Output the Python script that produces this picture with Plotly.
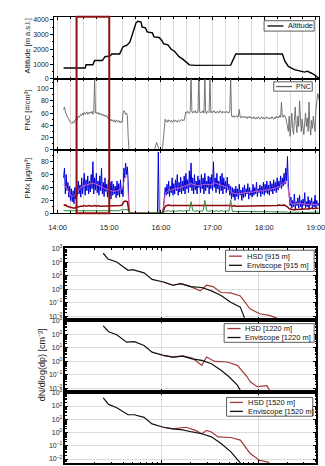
import plotly.graph_objects as go
import pandas as pd

DAY = "2017-07-20 "

# ---------------- time-series data ----------------
ALT_TIMES = ["14:07", "14:32", "14:33", "14:41", "14:43", "14:52", "14:55", "15:01", "15:03", "15:12",
             "15:16", "15:21", "15:24", "15:26", "15:31", "15:33", "15:37", "15:38", "15:42", "15:44",
             "15:50", "15:52", "15:58", "16:01", "16:03", "16:08", "16:10", "16:12", "16:16", "16:19",
             "16:21", "16:25", "16:27", "16:30", "16:33", "16:40", "17:00", "17:21", "17:27", "18:21",
             "18:24", "18:28", "18:35", "18:40", "18:47", "18:50", "18:52", "18:55", "18:58", "19:02", "19:04"]
ALT_M = [730, 730, 950, 950, 1240, 1240, 1500, 1550, 1680, 1680,
         2170, 2300, 2500, 2850, 3780, 3900, 3850, 3520, 3460, 3180,
         3110, 2840, 2800, 2600, 2390, 2300, 2150, 2000, 1850, 1650,
         1500, 1350, 1240, 1100, 950, 910, 930, 930, 1680, 1680,
         1200, 840, 620, 560, 460, 520, 480, 380, 290, 80, 20]

SERIES_START = "14:07"
# particle number concentration, 1-min samples from 14:07
PNC = [66, 70, 62, 58, 56, 52, 50, 47, 45, 44,
       43, 46, 44, 48, 50, 47, 52, 55, 53, 57,
       58, 56, 60, 57, 61, 58, 60, 62, 58, 61,
       59, 62, 60, 63, 58, 61, 118, 60, 62, 59,
       61, 58, 60, 57, 59, 56, 58, 55, 57, 54,
       56, 53, 50, 51, 48, 50, 47, 49, 46, 48,
       45, 49, 47, 45, 48, 46, 44, 47, 45, 60,
       64, 62, 58, 60, 56, 20,
       0,
       0, 0, 0, 0, 0, 0, 0, 0, 0, 0,
       0, 0, 0, 0, 0, 0, 0, 0, 0, 0,
       0, 0, 0, 0, 0, 0, 0, 0, 0,
       2, 6, 12, 8, 3, 0, 0, 0, 0, 5,
       25, 42, 50,
       46, 48, 45, 49, 47, 46, 48, 45, 47, 49,
       46, 48, 47, 45, 49, 47, 46, 48, 50, 47,
       49, 48, 58, 62, 60, 63, 61, 59, 62, 118,
       62, 60, 63, 61, 64, 60, 62, 61, 118, 63,
       60, 62, 61, 64, 60, 118, 62, 59, 63, 61,
       62, 118, 60, 63, 61, 62, 64, 60, 62, 61,
       63, 60, 62, 64, 61, 60, 63, 61, 62, 60,
       63, 61, 62, 60, 64, 118, 55, 54, 56, 53,
       55, 54, 56, 53, 55, 66, 54, 52, 55, 53,
       54, 52, 55, 53, 51, 54, 52, 55, 53, 51,
       53, 51, 54, 52, 50, 53, 51, 54, 52, 50,
       52, 54, 51, 53, 50, 52, 54, 51, 53, 52,
       50, 53, 51, 54, 52, 50, 53, 51, 55, 52,
       54, 52, 56, 53, 78, 55, 53, 57, 55, 52,
       45, 38, 30, 55, 22, 40, 60, 35, 25, 48,
       70, 42, 28, 55, 38, 80, 45, 30, 50, 35,
       25, 45, 60, 38, 52, 30, 78, 40, 24, 48,
       35, 55, 42, 30, 65, 85, 92, 88, 80]

# PMx (coarse, blue), 1-min samples from 14:07
PM_BLUE = [55, 70, 30, 60, 35, 48, 25, 42, 20, 38,
           18, 35, 15, 40, 22, 45, 28, 50, 30, 44,
           25, 55, 30, 48, 62, 28, 52, 35, 58, 30,
           50, 33, 60, 38, 80, 30, 55, 36, 62, 32,
           50, 28, 58, 35, 70, 30, 48, 26, 55, 34,
           45, 25, 52, 30, 48, 22, 50, 28, 45, 30,
           42, 24, 50, 28, 46, 25, 52, 30, 40, 26,
           70, 55, 78, 60, 72, 48,
           5,
           0, 0, 0, 0, 0, 0, 0, 0, 0, 0,
           0, 0, 0, 0, 0, 0, 0, 0, 0, 0,
           0, 0, 0, 0, 0, 0, 0, 0, 0, 0,
           0, 0, 0, 95, 0, 0, 0, 0, 0,
           10, 25, 40,
           28, 45, 30, 50, 26, 42, 32, 55, 28, 46,
           30, 52, 35, 60, 28, 48, 33, 56, 30, 50,
           35, 58, 30, 62, 38, 52, 32, 66, 40, 78,
           35, 55, 30, 60, 36, 50, 30, 58, 40, 52,
           32, 60, 38, 55, 30, 62, 35, 50, 40, 58,
           30, 56, 38, 60, 35, 80, 40, 55, 32, 62,
           38, 50, 30, 58, 35, 62, 30, 55, 38, 50,
           32, 56, 36, 45, 28, 42, 22, 40, 25, 38,
           20, 42, 26, 38, 22, 45, 28, 36, 20, 40,
           24, 44, 26, 38, 30, 46, 22, 40, 28, 35,
           25, 45, 28, 40, 30, 48, 26, 38, 32, 44,
           26, 42, 30, 48, 28, 45, 32, 50, 30, 44,
           28, 50, 34, 46, 30, 52, 35, 48, 32, 55,
           36, 50, 40, 58, 38, 55, 42, 62, 45, 70,
           50, 88, 42, 30,
           12, 25, 8, 20, 10, 30, 6, 18, 12, 24,
           8, 28, 10, 20, 6, 22, 12, 32, 8, 18,
           10, 26, 6, 20, 12, 24, 8, 18, 10, 28,
           8, 20, 12, 16, 10]

# 2-min samples from 14:07
PM_MEAN = [45, 42, 38, 33, 28, 26, 27, 30, 34, 38,
           40, 42, 43, 44, 45, 46, 46, 47, 46, 45,
           44, 43, 42, 40, 38, 37, 36, 35, 35, 34,
           34, 35, 35, 36, 38, 48, 58, 55,
           3,
           0, 0, 0, 0, 0, 0, 0, 0, 0, 0, 0, 0, 0, 0, 0, 0, 0, 0, 0,
           8, 30, 34, 36, 36, 37, 37, 38, 39, 39,
           40, 41, 42, 43, 44, 45, 46, 45, 44, 44,
           43, 43, 44, 44, 45, 45, 44, 44, 45, 46,
           47, 46, 45, 44, 44, 43, 42, 40, 37, 34,
           32, 31, 30, 30, 30, 31, 31, 32, 32, 32,
           33, 33, 33, 34, 34, 34, 35, 35, 35, 36,
           36, 37, 37, 38, 38, 39, 40, 41, 43, 45,
           47, 50, 45, 25,
           15, 14, 14, 15, 15, 16, 15, 14, 15, 14, 14, 15, 14, 14, 15, 15, 14]
PM_FINE = [12, 13, 11, 10, 9, 8, 8, 9, 10, 10,
           11, 11, 12, 11, 12, 12, 11, 12, 12, 11,
           12, 11, 11, 12, 11, 11, 12, 11, 11, 11,
           12, 11, 12, 12, 13, 18, 19, 18,
           2,
           0, 0, 0, 0, 0, 0, 0, 0, 0, 0, 0, 0, 0, 0, 0, 0, 0, 0, 0,
           4, 11, 12, 13, 12, 12, 13, 12, 12, 13,
           12, 12, 13, 12, 12, 13, 12, 12, 13, 12,
           12, 13, 12, 12, 13, 12, 12, 13, 12, 12,
           13, 12, 12, 13, 12, 12, 13, 12, 12, 12,
           11, 12, 11, 11, 12, 11, 11, 12, 11, 11,
           12, 11, 11, 12, 11, 11, 12, 11, 11, 12,
           11, 12, 12, 11, 12, 12, 12, 13, 12, 12,
           13, 12, 10, 7,
           6, 6, 5, 6, 6, 6, 7, 6, 7, 7, 7, 7, 8, 7, 8, 8, 8]
PM_SMALL = [4, 4, 4, 3, 3, 3, 3, 3, 4, 4,
            4, 4, 4, 4, 4, 4, 4, 4, 4, 4,
            4, 4, 4, 4, 4, 4, 4, 4, 4, 4,
            4, 4, 4, 5, 5, 6, 6, 6,
            1,
            0, 0, 0, 0, 0, 0, 0, 0, 0, 0, 0, 0, 0, 0, 0, 0, 0, 0, 0,
            1, 3, 4, 4, 3, 4, 4, 3, 4, 4,
            4, 3, 4, 4, 3, 4, 18, 4, 3, 4,
            4, 3, 4, 4, 20, 4, 3, 4, 4, 3,
            4, 4, 3, 4, 4, 3, 4, 4, 3, 21,
            3, 3, 3, 3, 3, 3, 3, 3, 3, 3,
            3, 3, 3, 3, 3, 3, 3, 3, 3, 3,
            3, 3, 3, 3, 3, 3, 3, 3, 3, 3,
            3, 3, 2, 1,
            2, 2, 1, 2, 1, 2, 1, 1, 2, 1, 2, 1, 1, 2, 1, 1, 2]

HIGHLIGHT = ["14:22", "15:00"]

assert len(PNC) == 298 and len(PM_BLUE) == 298
assert len(PM_MEAN) == 149 and len(PM_FINE) == 149 and len(PM_SMALL) == 149
assert len(ALT_TIMES) == len(ALT_M)

# ---------------- size distributions ----------------
ENV_915_DP = [0.247, 0.277, 0.341, 0.447, 0.50, 0.655, 0.794, 1.04, 1.31, 1.58, 2.0, 2.61, 3.28, 4.13, 5.2, 6.55, 7.35]
ENV_915_DN = [479, 178, 107, 25.7, 28.8, 16.6, 5.4, 3.5, 2.0, 2.6, 1.58, 1.35, 0.76, 0.35, 0.107, 0.047, 0.0055]
HSD_915_DP = [1.04, 1.31, 1.58, 2.0, 2.51, 2.92, 3.41, 4.13, 5.2, 6.55, 8.24, 10.4, 13.1, 17.1]
HSD_915_DN = [3.5, 2.0, 2.6, 1.58, 0.76, 2.0, 1.58, 0.575, 0.54, 0.32, 0.035, 0.015, 0.0115, 0.0055]

ENV_1220_DP = [0.247, 0.281, 0.341, 0.432, 0.52, 0.655, 0.794, 1.04, 1.31, 1.65, 2.07, 2.61, 3.28, 4.13, 5.0, 6.1, 6.8]
ENV_1220_DN = [427, 155, 93, 25.7, 28, 14.5, 4.7, 2.7, 2.0, 2.4, 1.5, 1.15, 0.65, 0.21, 0.069, 0.0166, 0.004]
HSD_1220_DP = [1.04, 1.31, 1.65, 2.07, 2.61, 2.92, 3.55, 4.8, 6.1, 7.7, 8.3, 9.8, 12.4, 13.7]
HSD_1220_DN = [2.7, 2.0, 2.5, 1.7, 0.49, 2.04, 0.95, 0.87, 0.49, 0.069, 0.0295, 0.0126, 0.015, 0.004]

ENV_1520_DP = [0.247, 0.281, 0.341, 0.447, 0.52, 0.655, 0.794, 1.04, 1.31, 1.65, 2.07, 2.61, 3.28, 4.13, 5.2, 6.55]
ENV_1520_DN = [407, 132, 74, 21.9, 21.9, 13.8, 4.5, 2.5, 1.9, 1.6, 1.1, 0.81, 0.47, 0.15, 0.036, 0.005]
HSD_1520_DP = [1.04, 1.31, 1.78, 2.24, 2.61, 2.92, 3.28, 3.85, 5.2, 6.55, 8.24, 10.4, 13.1]
HSD_1520_DN = [2.5, 1.9, 2.5, 1.45, 0.81, 1.45, 1.1, 0.47, 0.42, 0.27, 0.0275, 0.0079, 0.0056]

LOG_TICK_EXP = [-2, -1, 0, 1, 2, 3]

# ---------------- figure ----------------
W, H = 325, 466
FONT = "Arial, Liberation Sans, sans-serif"
C_ALT, C_PNC = "black", "#666666"
C_HSD, C_ENV = "#a33a36", "#111111"

t1 = pd.date_range(DAY + SERIES_START, periods=len(PNC), freq="1min")
t2 = pd.date_range(DAY + SERIES_START, periods=len(PM_MEAN), freq="2min")
alt_t = [DAY + s for s in ALT_TIMES]


def py(px):
    return 1 - px / H


fig = go.Figure()

fig.add_trace(go.Scatter(x=alt_t, y=ALT_M, mode="lines", name="Altitude",
                         line=dict(color=C_ALT, width=1.4), xaxis="x", yaxis="y"))
fig.add_trace(go.Scatter(x=t1, y=PNC, mode="lines", name="PNC",
                         line=dict(color=C_PNC, width=0.9), xaxis="x2", yaxis="y2"))
fig.add_trace(go.Scatter(x=t1, y=PM_BLUE, mode="lines", name="PMx",
                         line=dict(color="#0000d8", width=1.0), xaxis="x3", yaxis="y3"))
fig.add_trace(go.Scatter(x=t2, y=PM_MEAN, mode="lines", name="PMx mean",
                         line=dict(color="#e868c0", width=0.9), xaxis="x3", yaxis="y3"))
fig.add_trace(go.Scatter(x=t2, y=PM_FINE, mode="lines", name="PM fine",
                         line=dict(color="#8b0a0a", width=1.5), xaxis="x3", yaxis="y3"))
fig.add_trace(go.Scatter(x=t2, y=PM_SMALL, mode="lines", name="PM small",
                         line=dict(color="#2f8a3a", width=1.0), xaxis="x3", yaxis="y3"))

panels = [
    ("915", HSD_915_DP, HSD_915_DN, ENV_915_DP, ENV_915_DN, "x4", "y4"),
    ("1220", HSD_1220_DP, HSD_1220_DN, ENV_1220_DP, ENV_1220_DN, "x5", "y5"),
    ("1520", HSD_1520_DP, HSD_1520_DN, ENV_1520_DP, ENV_1520_DN, "x6", "y6"),
]
for alt, hdp, hdn, edp, edn, xa, ya in panels:
    fig.add_trace(go.Scatter(x=hdp, y=hdn, mode="lines", name=f"HSD [{alt} m]",
                             line=dict(color=C_HSD, width=1.2), xaxis=xa, yaxis=ya))
    fig.add_trace(go.Scatter(x=edp, y=edn, mode="lines", name=f"Enviscope [{alt} m]",
                             line=dict(color=C_ENV, width=1.2), xaxis=xa, yaxis=ya))

tick_font = dict(family=FONT, size=7, color="#222222")
grid_c = "#dcdcdc"

top_x = dict(type="date", range=[DAY + "13:56", DAY + "19:03:36"], domain=[50 / W, 1],
             showline=True, linecolor="black", linewidth=1, mirror="allticks",
             ticks="inside", ticklen=3, tickcolor="black",
             tick0=DAY + "14:00", dtick=3600000, tickformat="%H:%M",
             showgrid=True, gridcolor=grid_c, gridwidth=1, zeroline=False,
             minor=dict(dtick=900000, ticks="inside", ticklen=2, tickcolor="black",
                        showgrid=True, gridcolor=grid_c, gridwidth=1),
             showticklabels=False, tickfont=dict(tick_font, size=7.5))
top_y = dict(showline=True, linecolor="black", linewidth=1, mirror=True,
             ticks="outside", ticklen=3, tickcolor="black", showgrid=False, zeroline=False,
             tickfont=tick_font)

bot_x = dict(type="log", range=[-1, 1.6], domain=[61.7 / W, 321.7 / W],
             showline=True, linecolor="black", linewidth=1.5, mirror="allticks",
             ticks="inside", ticklen=3, tickcolor="black", dtick=1,
             showgrid=True, gridcolor=grid_c, zeroline=False, showticklabels=False,
             minor=dict(ticks="inside", ticklen=1.5, dtick="D1", tickcolor="black", showgrid=False))
bot_y = dict(type="log", range=[-2.3, 3.05],
             showline=True, linecolor="black", linewidth=1.5, mirror="allticks",
             ticks="inside", ticklen=3, tickcolor="black",
             tickvals=[10 ** e for e in LOG_TICK_EXP],
             ticktext=[f"10<sup>{'−' if e < 0 else ''}{abs(e)}</sup>" for e in LOG_TICK_EXP],
             showgrid=True, gridcolor=grid_c, zeroline=False, tickfont=tick_font,
             minor=dict(ticks="inside", ticklen=1.5, dtick="D1", tickcolor="black", showgrid=False))

fig.update_layout(
    width=W, height=H, margin=dict(l=0, r=0, t=0, b=0),
    paper_bgcolor="white", plot_bgcolor="white", showlegend=False,
    font=dict(family=FONT, size=7, color="#222222"),
    xaxis=dict(top_x, anchor="y", matches="x3"),
    xaxis2=dict(top_x, anchor="y2", matches="x3"),
    xaxis3=dict(top_x, anchor="y3", showticklabels=True, ticklabelstandoff=7,
                ticklabeloverflow="allow"),
    yaxis=dict(top_y, domain=[py(76), py(13)], range=[0, 4200], dtick=1000, anchor="x",
               minor=dict(ticks="outside", ticklen=1.5, dtick=500, tickcolor="black")),
    yaxis2=dict(top_y, domain=[py(148), py(76)], range=[0, 116], dtick=20, anchor="x2",
                minor=dict(ticks="outside", ticklen=1.5, dtick=10, tickcolor="black")),
    yaxis3=dict(top_y, domain=[py(212.5), py(148)], range=[0, 98.5], tickvals=[0, 20, 40, 60, 80],
                anchor="x3", minor=dict(ticks="outside", ticklen=1.5, dtick=10, tickcolor="black")),
    xaxis4=dict(bot_x, anchor="y4"),
    xaxis5=dict(bot_x, anchor="y5"),
    xaxis6=dict(bot_x, anchor="y6"),
    yaxis4=dict(bot_y, domain=[py(321), py(248)], anchor="x4"),
    yaxis5=dict(bot_y, domain=[py(394), py(321)], anchor="x5"),
    yaxis6=dict(bot_y, domain=[0, py(394)], anchor="x6"),
)

# highlighted time window (red box across the three time-series panels)
fig.add_shape(type="rect", xref="x", yref="paper",
              x0=DAY + HIGHLIGHT[0], x1=DAY + HIGHLIGHT[1], y0=py(212.5), y1=py(13),
              line=dict(color="#8e1010", width=2), layer="above")


# compact boxed legends (key line + label), as in the original figure
def boxed_legend(box, entries, line_x, text_x, size):
    x0, y0, x1, y1 = box
    fig.add_shape(type="rect", xref="paper", yref="paper", x0=x0 / W, x1=x1 / W,
                  y0=py(y1), y1=py(y0), line=dict(color="#333333", width=0.8),
                  fillcolor="white", layer="above")
    for label, color, ypix in entries:
        fig.add_shape(type="line", xref="paper", yref="paper", x0=line_x[0] / W, x1=line_x[1] / W,
                      y0=py(ypix), y1=py(ypix), line=dict(color=color, width=1.3), layer="above")
        fig.add_annotation(text=label, x=text_x / W, y=py(ypix), xref="paper", yref="paper",
                           xanchor="left", yanchor="middle", showarrow=False,
                           font=dict(family=FONT, size=size, color="#111111"))


boxed_legend((268, 17, 320, 27.5), [("Altitude", C_ALT, 22.3)], (271.5, 288), 290.5, 7.5)
boxed_legend((278, 79, 318, 88.5), [("PNC", C_PNC, 83.8)], (280.5, 297), 299, 7)
legend_boxes = [((228, 250, 320, 271.5), 256, 265.3),
                ((226.5, 324.5, 320, 343.5), 329.5, 338.6),
                ((229, 399.5, 318.5, 418.5), 404.5, 413.6)]
for (alt, *_), (box, ya, yb) in zip(panels, legend_boxes):
    boxed_legend(box, [(f"HSD [{alt} m]", C_HSD, ya), (f"Enviscope [{alt} m]", C_ENV, yb)],
                 (box[0] + 3.5, box[0] + 17), box[0] + 20, 7.5)

# axis titles
title_font = dict(family=FONT, size=7.5, color="#222222")
for text, ypix in [("Altitude [m a.s.l.]", 43), ("PNC [#/cm³]", 108), ("PMx [µg/m³]", 177)]:
    fig.add_annotation(text=text, x=22 / W, y=py(ypix), xref="paper", yref="paper",
                       xanchor="center", yanchor="middle",
                       textangle=-90, showarrow=False, font=title_font)
fig.add_annotation(text="dN/dlog(dp) [cm⁻³]", x=37 / W, y=py(366), xref="paper", yref="paper",
                   xanchor="center", yanchor="middle",
                   textangle=-90, showarrow=False, font=dict(family=FONT, size=9, color="#222222"))

fig.write_html("out.html", config={"displayModeBar": False},
               post_script="document.body.style.margin='0';document.body.style.overflow='hidden';")
